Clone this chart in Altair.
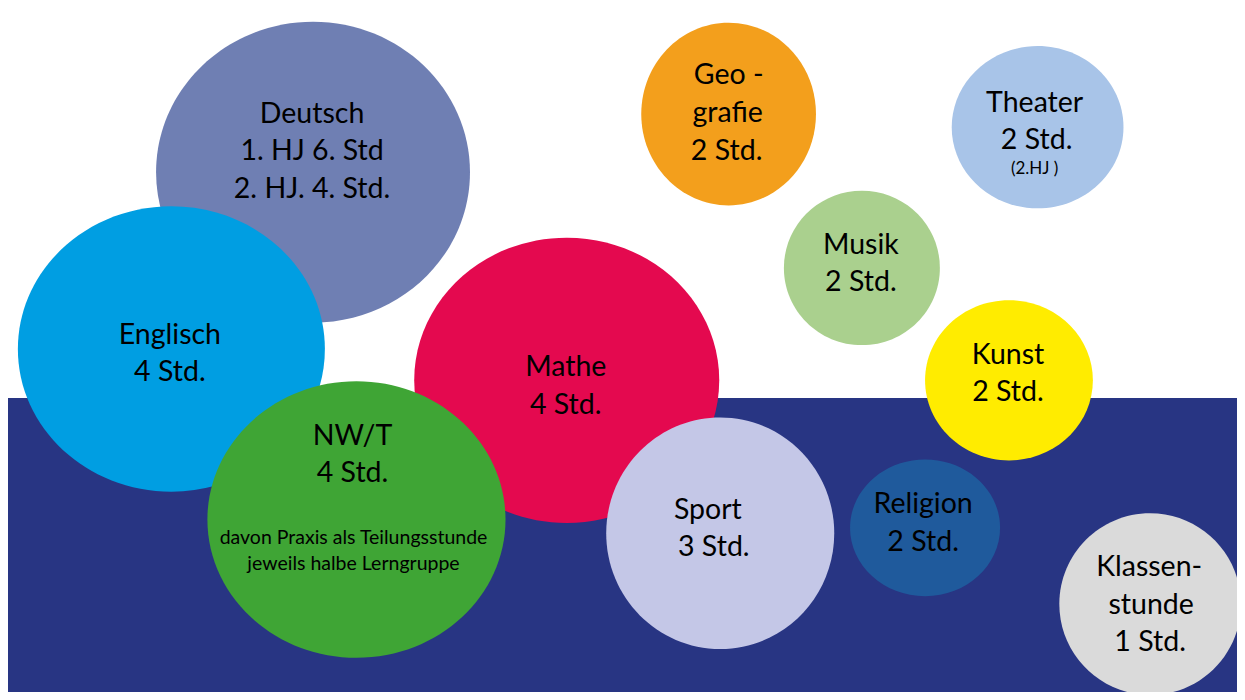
import altair as alt
import pandas as pd

# ---- data (chart units: 0..1245 wide, 0..700 tall, y downward) ----
subjects = ["Deutsch", "Englisch", "Mathe", "NW/T", "Sport", "Geografie",
            "Theater", "Musik", "Kunst", "Religion", "Klassenstunde"]
center_x = [309, 165.5, 566, 353, 721.5, 730, 1043, 865, 1014, 929, 1157]
center_y = [168, 349, 381, 523.5, 537.5, 108.5, 122, 266, 381, 532, 610]
radius_x = [159, 155.5, 154.5, 151, 115.5, 88.5, 87, 79, 85, 76, 92]
radius_y = [154, 146, 146, 141.5, 118.5, 93.5, 83, 79, 82, 70, 93]
colors = ["#6f7fb3", "#009ee2", "#e4094f", "#3fa535", "#c4c7e7", "#f39f1c",
          "#a8c4e8", "#aad08e", "#ffec00", "#1f5a9c", "#dadada"]

label_text = ["Deutsch", "1. HJ 6. Std", "2. HJ. 4. Std.",
              "Englisch", "4 Std.",
              "Mathe", "4 Std.",
              "NW/T", "4 Std.", "davon Praxis als Teilungsstunde", "jeweils halbe Lerngruppe",
              "Sport", "3 Std.",
              "Geo -", "grafie", "2 Std.",
              "Theater", "2 Std.", "(2.HJ )",
              "Musik", "2 Std.",
              "Kunst", "2 Std.",
              "Religion", "2 Std.",
              "Klassen-", "stunde", "1 Std."]
label_x = [308, 308, 308,
           164, 164,
           565, 565,
           349, 349, 350, 350,
           709, 715,
           730, 729, 728,
           1040, 1042, 1040,
           864, 864,
           1013, 1013,
           927, 927,
           1156, 1158, 1157]
label_y = [118, 156, 194,
           344, 382,
           377, 415,
           447, 485, 549, 575,
           523, 561,
           78, 117, 156,
           106, 144, 170,
           252, 290,
           364, 402,
           517, 556,
           581, 620, 658]
label_size = [28.5, 28.5, 28.5,
              28.5, 28.5,
              28.5, 28.5,
              28.5, 28.5, 19.5, 19.5,
              28.5, 28.5,
              28.5, 28.5, 28.5,
              28.5, 28.5, 17,
              28.5, 28.5,
              28.5, 28.5,
              28.5, 28.5,
              28.5, 28.5, 28.5]

band_top = [399]
band_bottom = [700]
navy = "#283583"

# ---- build tables ----
W, H = 1229, 684
DOM_W, DOM_H = 1245, 700
sx, sy = W / DOM_W, H / DOM_H

paths, sizes = [], []
for rx, ry in zip(radius_x, radius_y):
    prx, pry = rx * sx, ry * sy
    R = max(prx, pry)
    a, b = prx / R, pry / R
    paths.append(f"M{-a:.4f},0A{a:.4f},{b:.4f},0,1,1,{a:.4f},0A{a:.4f},{b:.4f},0,1,1,{-a:.4f},0Z")
    sizes.append((2 * R) ** 2)

bubbles = pd.DataFrame({
    "subject": subjects, "cx": center_x, "cy": center_y,
    "sz": sizes, "order": list(range(len(subjects))),
})
labels = pd.DataFrame({"text": label_text, "lx": label_x, "ly": label_y, "fs": label_size})
band = pd.DataFrame({"x0": [0], "x1": [DOM_W], "y0": band_top, "y1": band_bottom})

xs = alt.Scale(domain=[0, DOM_W], nice=False, zero=False)
ys = alt.Scale(domain=[DOM_H, 0], nice=False, zero=False)

bg = alt.Chart(band).mark_rect(color=navy, clip=True).encode(
    x=alt.X("x0:Q", scale=xs, axis=None), x2="x1:Q",
    y=alt.Y("y0:Q", scale=ys, axis=None), y2="y1:Q",
)

circles = alt.Chart(bubbles).mark_point(filled=True, opacity=1, strokeWidth=0, clip=True).encode(
    x=alt.X("cx:Q", scale=xs, axis=None),
    y=alt.Y("cy:Q", scale=ys, axis=None),
    size=alt.Size("sz:Q", scale=None, legend=None),
    shape=alt.Shape("subject:N", scale=alt.Scale(domain=subjects, range=paths), legend=None),
    color=alt.Color("subject:N", scale=alt.Scale(domain=subjects, range=colors), legend=None),
    order=alt.Order("order:Q"),
)

texts = alt.Chart(labels).mark_text(
    font="Lato", color="#000000", align="center", baseline="alphabetic", clip=True
).encode(
    x=alt.X("lx:Q", scale=xs, axis=None),
    y=alt.Y("ly:Q", scale=ys, axis=None),
    text="text:N",
    size=alt.Size("fs:Q", scale=None, legend=None),
)

chart = alt.layer(bg, circles, texts).properties(
    width=W, height=H, padding=0, autosize=alt.AutoSizeParams(type="none"),
    background="#ffffff",
).configure_view(stroke=None)

chart.save("out.html", embed_options={"renderer": "svg", "actions": False})
